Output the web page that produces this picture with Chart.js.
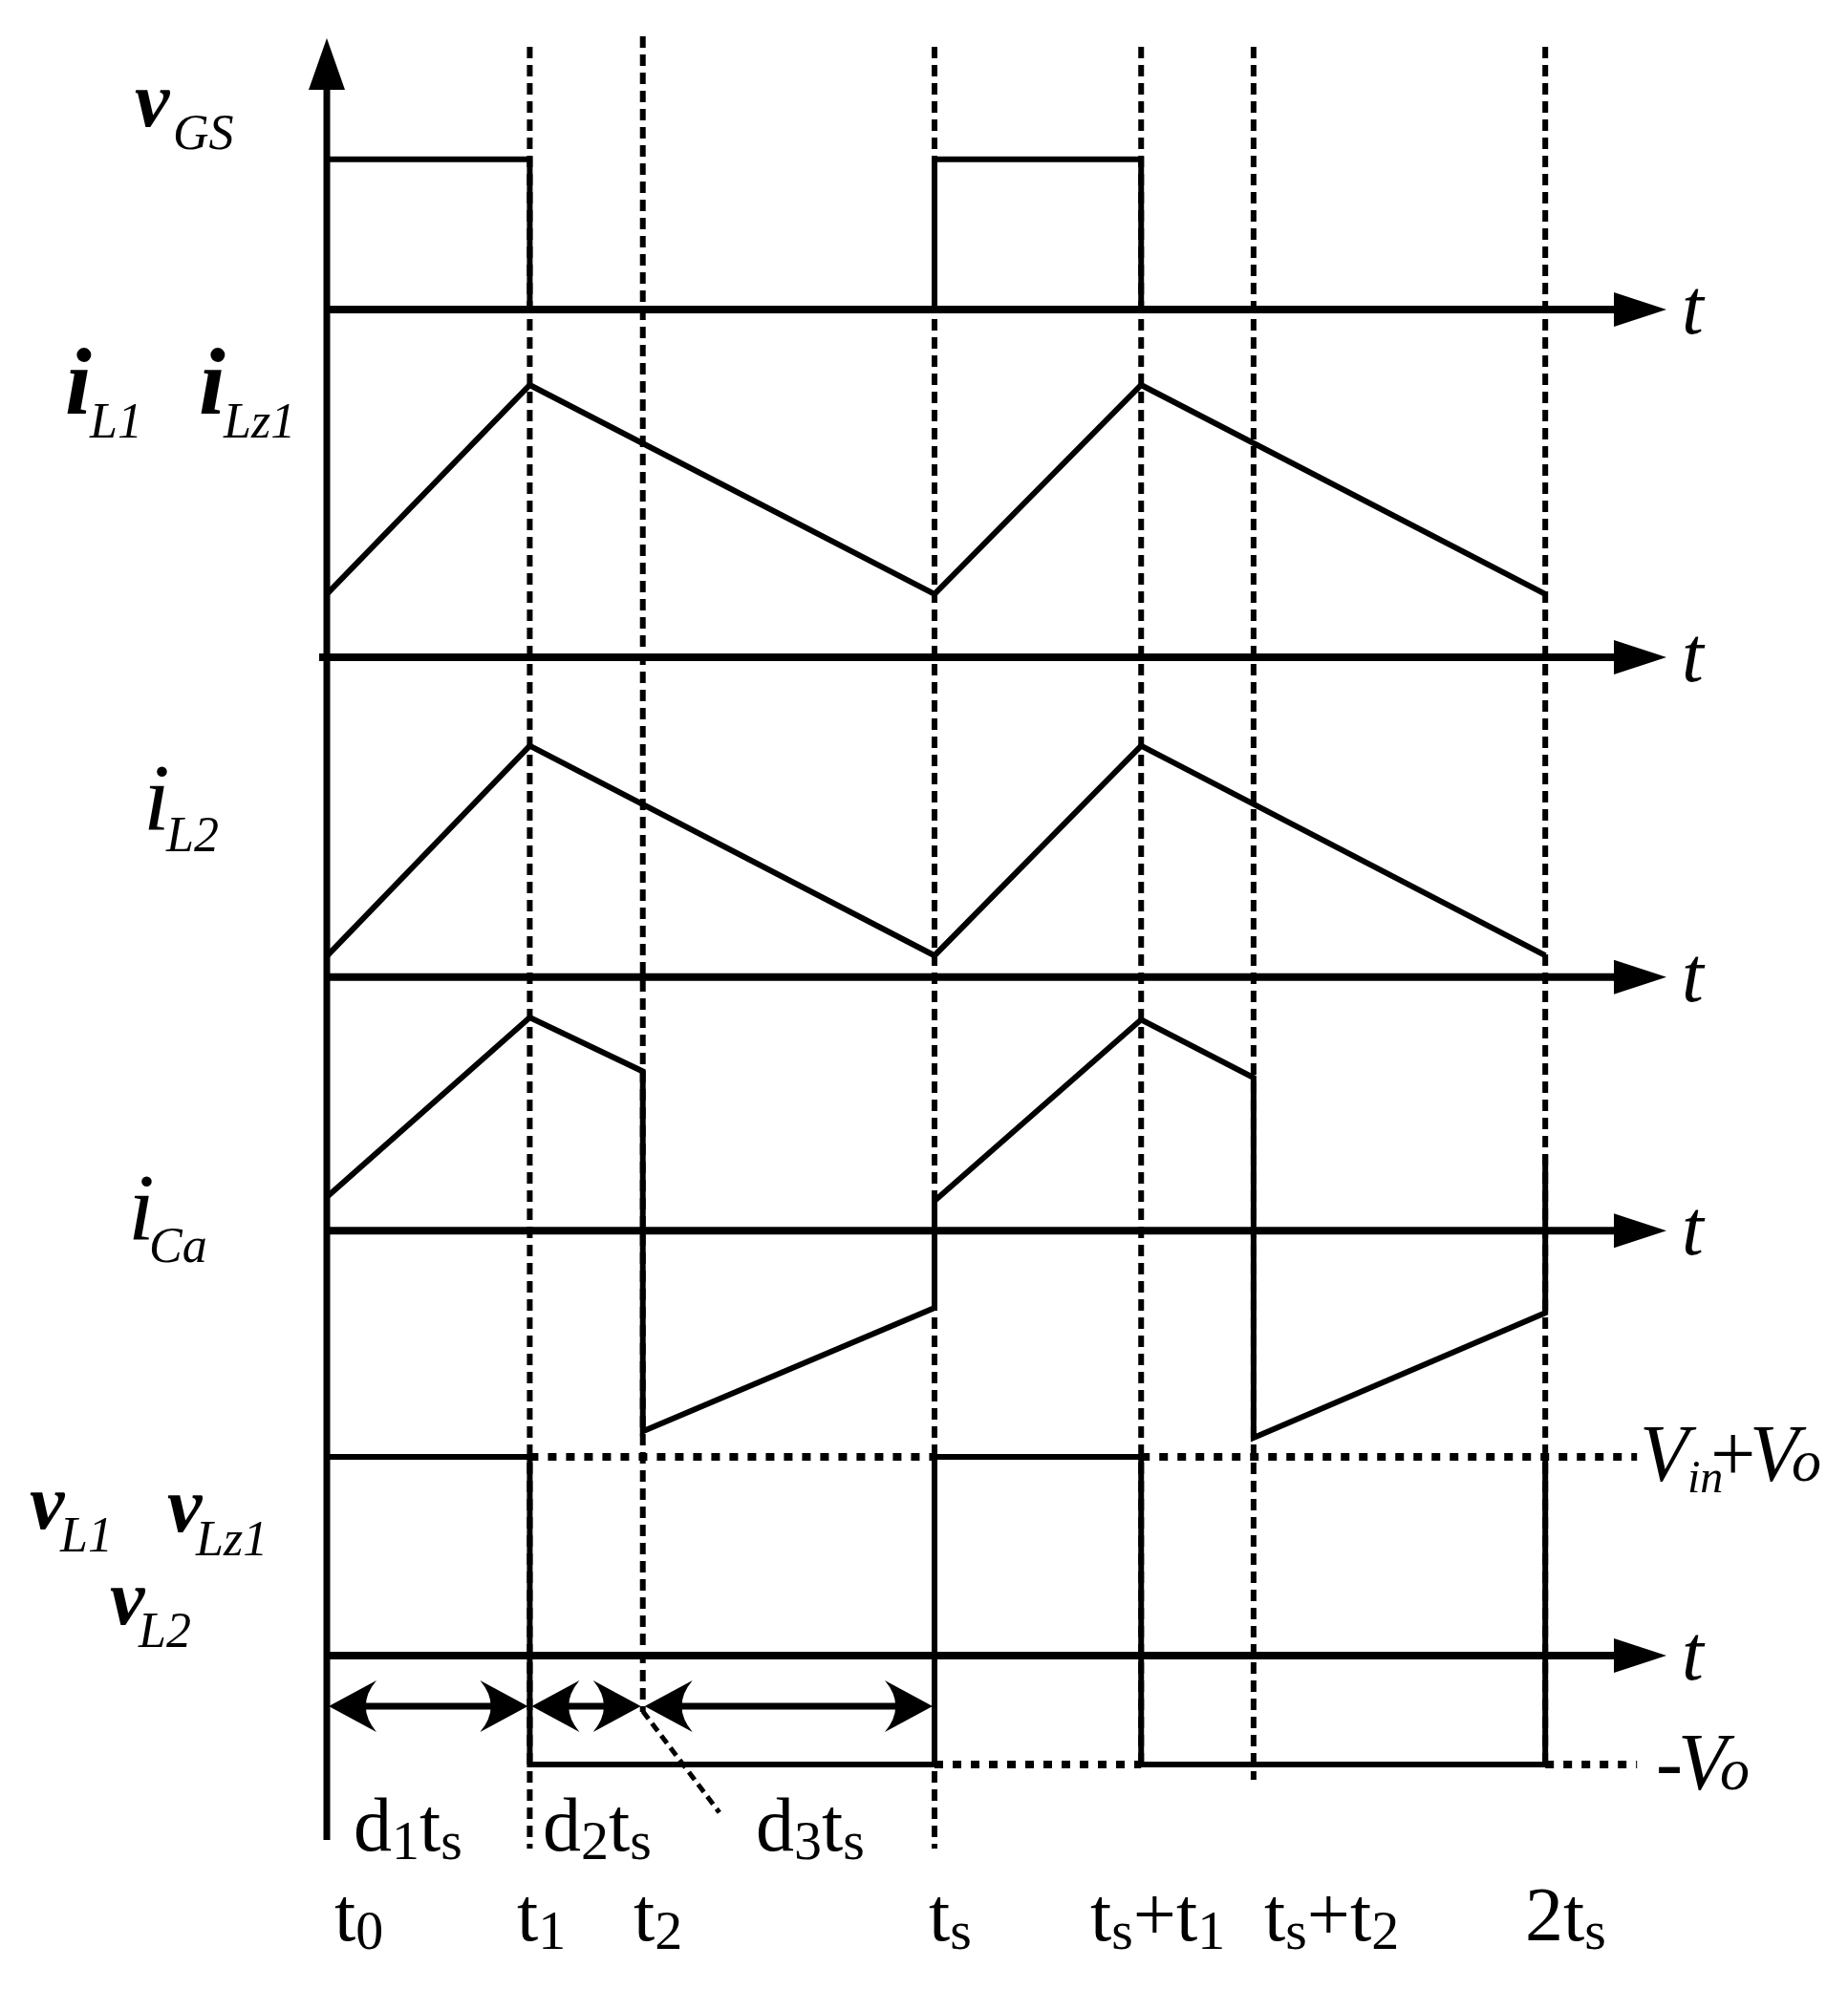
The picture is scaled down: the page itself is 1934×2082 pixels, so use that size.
<!DOCTYPE html>
<html>
<head>
<meta charset="utf-8">
<script src="https://cdn.jsdelivr.net/npm/chart.js@4.4.0/dist/chart.umd.min.js"></script>
<style>
html,body{margin:0;padding:0;background:#fff;}
#caja{width:1934px;height:2082px;}
</style>
</head>
<body>
<div id="caja"><canvas id="formas"></canvas></div>
<script>
// instantes de conmutacion (ts = 1)
var etiquetasT = ['t0','t1','t2','ts','ts+t1','ts+t2','2ts'];
var tiempos = [0, 0.334, 0.52, 1, 1.34, 1.525, 2.005];

// cada forma: indices sobre tiempos y su valor (normalizado)
var vgsIdx = [0,1,1,3,3,4,4];
var vgsVal = [1,1,0,0,1,1,0];

var il1Idx = [0,1,3,4,6];
var il1Val = [0.232,1,0.232,1,0.232];

var il2Idx = [0,1,3,4,6];
var il2Val = [0.09,1,0.093,1,0.093];

var icaIdx = [0,1,2,2,3,3,4,5,5,6,6];
var icaVal = [0.158,1,0.747,-0.94,-0.361,0.14,0.99,0.718,-0.97,-0.385,0.36];

var vlIdx = [0,1,1,3,3,4,4,6,6];
var vlVal = [1,1,-0.548,-0.548,1,1,-0.548,-0.548,1];

var nivelAlto = 1;       // Vin+Vo
var nivelBajo = -0.548;  // -Vo
var finNivel = 2.156;

var intervalos = [[0,1,'d1ts'],[1,2,'d2ts'],[2,3,'d3ts']];

// ---- disposicion ----
var W = 1934, H = 2082;
var origenX = 342, pxPorT = 636;
var paneles = {
  yGS: {base:324,    px:157.3},
  yL1: {base:688,    px:285},
  yL2: {base:1022.7, px:242},
  yCa: {base:1288.3, px:223.3},
  yVL: {base:1733,   px:208}
};
var guias = [[1,49,1935],[2,38,1792],[3,49,1935],[4,49,1847],[5,49,1863],[6,49,1847]];
var pieX = [350,541,663,972,1141,1323,1596];
var intervX = [370,568,791];
var nivelFlechas = -0.255;
var serif = '"Liberation Serif", "Times New Roman", serif';

var escalas = { x: {type:'linear', display:false, min:-origenX/pxPorT, max:(W-origenX)/pxPorT} };
for (var k in paneles) {
  escalas[k] = {type:'linear', display:false,
    min: -(H-paneles[k].base)/paneles[k].px,
    max: paneles[k].base/paneles[k].px};
}

function serie(idx, val, eje){
  var pts=[];
  for(var i=0;i<idx.length;i++) pts.push({x:tiempos[idx[i]], y:val[i]});
  return {data:pts, yAxisID:eje, showLine:true, borderColor:'#000', borderWidth:6,
    pointRadius:0, fill:false, tension:0, clip:false, borderJoinStyle:'miter'};
}
function punteado(x0, x1, y, eje){
  return {data:[{x:x0,y:y},{x:x1,y:y}], yAxisID:eje, showLine:true, borderColor:'#000',
    borderWidth:8, borderDash:[9,10], pointRadius:0, fill:false, clip:false};
}

function punta(ctx, x, y, dir, L, h){
  ctx.beginPath();
  ctx.moveTo(x, y);
  ctx.lineTo(x+dir*L, y-h);
  ctx.quadraticCurveTo(x+dir*L*0.55, y, x+dir*L, y+h);
  ctx.closePath();
  ctx.fill();
}

function escribe(ctx, txt, x, y, tam, sub){
  for(var i=0;i<txt.length;i++){
    var c = txt[i];
    var esSub = i>0 && /[td]/.test(txt[i-1]) && /[0-9s]/.test(c);
    ctx.font = (esSub? sub : tam)+'px '+serif;
    ctx.fillText(c, x, y + (esSub? 9 : 0));
    x += ctx.measureText(c).width;
  }
}

function rotulo(ctx, a, b, x1, y1, x2, y2, negrita){
  var tam = a==='i' ? 100 : 82;
  ctx.font = (negrita?'bold ':'')+'italic '+tam+'px '+serif;
  ctx.fillText(a, x1, y1);
  ctx.font = 'italic 52px '+serif;
  ctx.fillText(b, x2, y2);
}

var dibujo = {
  id:'dibujo',
  beforeDatasetsDraw: function(chart){
    var ctx = chart.ctx, xs = chart.scales.x;
    ctx.save();
    ctx.strokeStyle='#000'; ctx.lineWidth=6; ctx.lineCap='butt'; ctx.setLineDash([12,7]);
    for(var i=0;i<guias.length;i++){
      var x = xs.getPixelForValue(tiempos[guias[i][0]]);
      ctx.beginPath(); ctx.moveTo(x, guias[i][1]); ctx.lineTo(x, guias[i][2]); ctx.stroke();
    }
    ctx.restore();
  },
  afterDatasetsDraw: function(chart){
    var ctx = chart.ctx, xs = chart.scales.x, s = chart.scales;
    var x0 = xs.getPixelForValue(0);
    var xFin = 1744;
    ctx.save();
    ctx.strokeStyle='#000'; ctx.fillStyle='#000'; ctx.setLineDash([]);
    // eje vertical
    ctx.lineWidth=7;
    ctx.beginPath(); ctx.moveTo(x0, 1926); ctx.lineTo(x0, 90); ctx.stroke();
    ctx.beginPath(); ctx.moveTo(x0, 40); ctx.lineTo(x0-19, 94); ctx.lineTo(x0+19, 94); ctx.closePath(); ctx.fill();
    // ejes de tiempo
    for(var k in paneles){
      var y = s[k].getPixelForValue(0);
      ctx.lineWidth=8;
      ctx.beginPath(); ctx.moveTo(x0-(k==='yL1'?8:0), y); ctx.lineTo(xFin-50, y); ctx.stroke();
      ctx.beginPath(); ctx.moveTo(xFin, y); ctx.lineTo(xFin-55, y-18); ctx.lineTo(xFin-55, y+18); ctx.closePath(); ctx.fill();
      ctx.font = 'italic 82px '+serif;
      ctx.fillText('t', 1760, y+25);
    }
    // flechas de intervalos
    var yf = s.yVL.getPixelForValue(nivelFlechas);
    ctx.lineWidth=7;
    for(var i=0;i<intervalos.length;i++){
      var xa = xs.getPixelForValue(tiempos[intervalos[i][0]]);
      var xb = xs.getPixelForValue(tiempos[intervalos[i][1]]);
      ctx.beginPath(); ctx.moveTo(xa+20, yf); ctx.lineTo(xb-20, yf); ctx.stroke();
      punta(ctx, xa+2, yf, 1, 50, 27);
      punta(ctx, xb-2, yf, -1, 50, 27);
    }
    // guia de t2 hacia d3ts
    ctx.lineWidth=5; ctx.setLineDash([10,6]);
    ctx.beginPath();
    ctx.moveTo(xs.getPixelForValue(tiempos[2]), s.yVL.getPixelForValue(-0.28));
    ctx.lineTo(xs.getPixelForValue(0.646), s.yVL.getPixelForValue(-0.79));
    ctx.stroke();
    ctx.setLineDash([]);

    // rotulos de las formas de onda
    rotulo(ctx,'v','GS',141,132,181,156,true);
    rotulo(ctx,'i','L1',68,433,94,458,true);
    rotulo(ctx,'i','Lz1',208,433,234,458,true);
    rotulo(ctx,'i','L2',150,868,174,891,false);
    rotulo(ctx,'i','Ca',134,1297,156,1321,false);
    rotulo(ctx,'v','L1',31,1600,63,1624,true);
    rotulo(ctx,'v','Lz1',175,1603,205,1628,true);
    rotulo(ctx,'v','L2',115,1700,145,1724,true);

    // niveles
    ctx.font='italic 84px '+serif; ctx.fillText('V',1716,1550);
    ctx.font='italic 48px '+serif; ctx.fillText('in',1766,1562);
    ctx.font='84px '+serif; ctx.fillText('+',1790,1550);
    ctx.font='italic 84px '+serif; ctx.fillText('V',1831,1550);
    ctx.font='italic 62px '+serif; ctx.fillText('o',1875,1550);
    ctx.font='84px '+serif; ctx.fillText('-',1733,1873);
    ctx.font='italic 84px '+serif; ctx.fillText('V',1756,1873);
    ctx.font='italic 62px '+serif; ctx.fillText('o',1800,1873);

    // tiempos e intervalos
    for(var j=0;j<etiquetasT.length;j++) escribe(ctx, etiquetasT[j], pieX[j], 2031, 80, 58);
    for(var m=0;m<intervalos.length;m++) escribe(ctx, intervalos[m][2], intervX[m], 1937, 80, 58);
    ctx.restore();
  }
};

function GraficaConmutacion(){
  var ctx = document.getElementById('formas').getContext('2d');
  var datos = [
    serie(vgsIdx, vgsVal, 'yGS'),
    serie(il1Idx, il1Val, 'yL1'),
    serie(il2Idx, il2Val, 'yL2'),
    serie(icaIdx, icaVal, 'yCa'),
    serie(vlIdx, vlVal, 'yVL'),
    punteado(tiempos[1], tiempos[3], nivelAlto, 'yVL'),
    punteado(tiempos[4], finNivel, nivelAlto, 'yVL'),
    punteado(tiempos[3], tiempos[4], nivelBajo, 'yVL'),
    punteado(tiempos[6], finNivel, nivelBajo, 'yVL')
  ];
  new Chart(ctx, {
    type:'scatter',
    data:{ datasets: datos },
    options:{
      responsive:true, maintainAspectRatio:false, animation:false, events:[],
      layout:{ padding:0 },
      scales: escalas,
      plugins:{ legend:{display:false}, tooltip:{enabled:false} }
    },
    plugins:[dibujo]
  });
}
GraficaConmutacion();
</script>
</body>
</html>
